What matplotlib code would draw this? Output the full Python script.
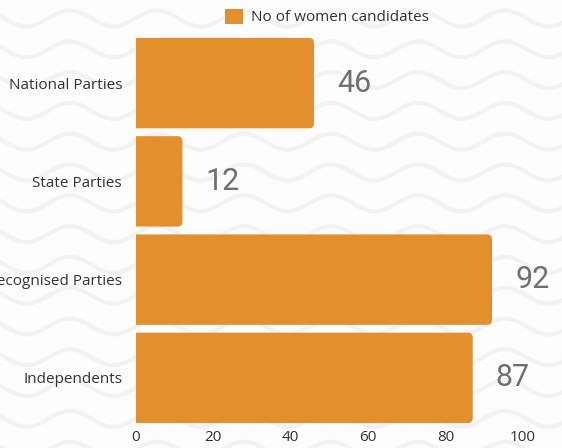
import numpy as np
import matplotlib.pyplot as plt
from matplotlib.patches import FancyBboxPatch, Patch

categories = ['National Parties', 'State Parties', 'Unrecognised Parties', 'Independents']
women_candidates = [46, 12, 92, 87]
x_ticks = [0, 20, 40, 60, 80, 100]
series_name = 'No of women candidates'

BAR_COLOR = '#E38F2E'
W, H = 562, 448

fig = plt.figure(figsize=(W / 100, H / 100), dpi=100)
fig.patch.set_facecolor('#fdfdfd')

# wavy background pattern, drawn in pixel coords
bg = fig.add_axes([0, 0, 1, 1], zorder=-1)
bg.set_xlim(0, W)
bg.set_ylim(H, 0)
bg.axis('off')
xs = np.linspace(-10, W + 10, 800)
for k in range(-1, 16):
    base = 18.5 + k * 30.8
    bg.plot(xs, base - 8 * np.cos(2 * np.pi * (xs - 418) / 87),
            color='#f2f2f2', lw=3.0, solid_capstyle='round')

ax = fig.add_axes([136 / W, 21 / H, (523 - 136) / W, 393 / H])
ax.set_facecolor('none')
ypos = np.arange(len(categories))
bars = ax.barh(ypos, women_candidates, height=0.92, color=BAR_COLOR)
ax.set_xlim(0, 100)
ax.set_ylim(len(categories) - 0.5, -0.5)

# swap the plain bars for ones with rounded right corners
fig.canvas.draw()
px_x = ax.transData.transform((1, 0))[0] - ax.transData.transform((0, 0))[0]
px_y = abs(ax.transData.transform((0, 1))[1] - ax.transData.transform((0, 0))[1])
r = 5 / px_x
for b in bars:
    b.set_visible(False)
    p = FancyBboxPatch((b.get_x() - 3 * r, b.get_y()), b.get_width() + 3 * r, b.get_height(),
                       boxstyle=f'round,pad=0,rounding_size={r}',
                       mutation_aspect=px_x / px_y, facecolor=BAR_COLOR,
                       edgecolor='none', clip_on=True)
    ax.add_patch(p)
    ax.text(b.get_width() + 23 / px_x, b.get_y() + b.get_height() / 2,
            str(int(b.get_width())), va='center', ha='left',
            fontsize=22, color='#707070', family='Roboto')

ax.set_yticks(ypos)
ax.set_yticklabels(categories, family='Open Sans', fontsize=11, color='#333333')
ax.set_xticks(x_ticks)
ax.set_xticklabels([str(t) for t in x_ticks], family='Open Sans', fontsize=11, color='#333333')
ax.tick_params(length=0)
ax.tick_params(axis='y', pad=10)
ax.tick_params(axis='x', pad=2)
for s in ax.spines.values():
    s.set_visible(False)

leg = fig.legend(handles=[Patch(facecolor=BAR_COLOR, label=series_name)],
                 loc='center', bbox_to_anchor=(327 / W, 1 - 17 / H), frameon=False,
                 prop={'family': 'Open Sans', 'size': 11},
                 handlelength=1.2, handleheight=1.2, handletextpad=0.5)
for t in leg.get_texts():
    t.set_color('#333333')

fig.savefig('out.png', dpi=100)
